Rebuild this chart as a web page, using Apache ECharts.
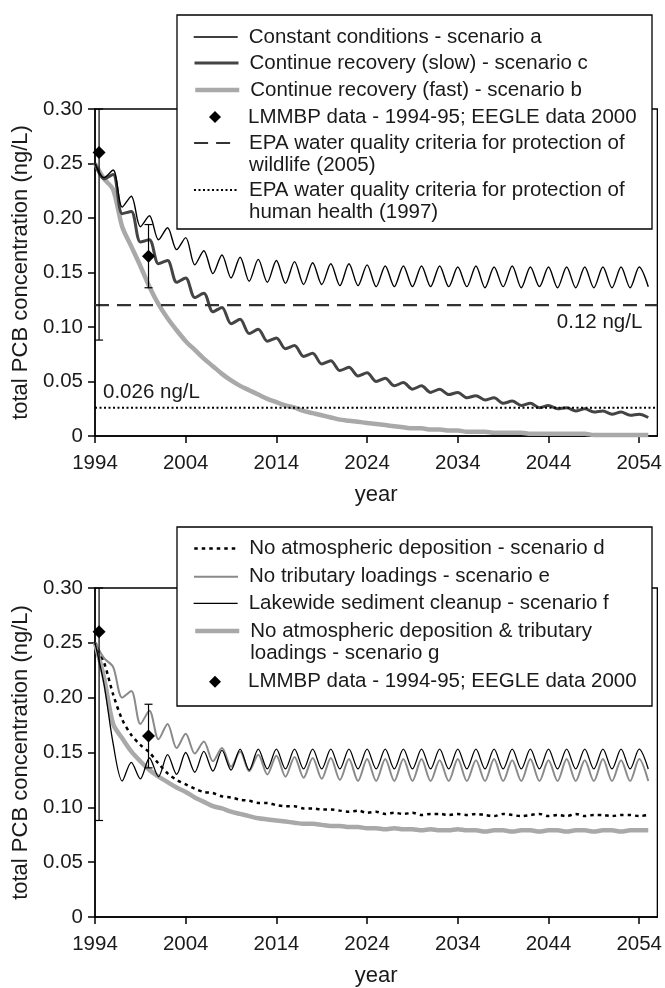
<!DOCTYPE html>
<html><head><meta charset="utf-8">
<script src="https://cdn.jsdelivr.net/npm/echarts@6/dist/echarts.min.js"></script>
<style>html,body{margin:0;padding:0;background:#fff}#c{width:665px;height:988px}</style>
</head><body><div id="c"></div><script>
// ---------- data ----------
const years = [1994,1995,1996,1997,1998,1999,2000,2001,2002,2003,2004,2005,2006,2007,2008,2009,2010,2011,2012,2013,2014,2015,2016,2017,2018,2019,2020,2021,2022,2023,2024,2025,2026,2027,2028,2029,2030,2031,2032,2033,2034,2035,2036,2037,2038,2039,2040,2041,2042,2043,2044,2045,2046,2047,2048,2049,2050,2051,2052,2053,2054,2055];
const yearTicks = [1994,2004,2014,2024,2034,2044,2054];
const xRange = [1994, 2056];
const yTicks = [0, 0.05, 0.10, 0.15, 0.20, 0.25, 0.30];

// top panel
const scenarioA = [0.250,0.237,0.244,0.210,0.220,0.192,0.202,0.180,0.191,0.171,0.182,0.157,0.170,0.149,0.166,0.145,0.164,0.142,0.162,0.141,0.161,0.140,0.160,0.139,0.159,0.139,0.158,0.138,0.158,0.138,0.157,0.137,0.156,0.137,0.156,0.137,0.156,0.137,0.156,0.137,0.155,0.137,0.156,0.136,0.155,0.137,0.156,0.136,0.155,0.137,0.155,0.136,0.155,0.136,0.155,0.136,0.155,0.136,0.155,0.136,0.155,0.137];
const scenarioC = [0.250,0.236,0.240,0.204,0.206,0.178,0.180,0.158,0.161,0.141,0.145,0.127,0.131,0.114,0.118,0.103,0.107,0.094,0.098,0.087,0.090,0.080,0.083,0.073,0.076,0.066,0.069,0.060,0.063,0.055,0.058,0.050,0.053,0.046,0.049,0.043,0.046,0.040,0.043,0.038,0.040,0.035,0.037,0.033,0.035,0.030,0.032,0.028,0.030,0.026,0.028,0.025,0.026,0.023,0.025,0.022,0.023,0.020,0.022,0.019,0.020,0.017];
const scenarioB = [0.250,0.236,0.226,0.192,0.174,0.156,0.137,0.121,0.108,0.097,0.087,0.079,0.071,0.064,0.057,0.051,0.046,0.042,0.038,0.034,0.031,0.028,0.026,0.023,0.021,0.019,0.017,0.015,0.014,0.013,0.012,0.011,0.010,0.009,0.008,0.007,0.007,0.006,0.006,0.005,0.005,0.004,0.004,0.004,0.003,0.003,0.003,0.003,0.002,0.002,0.002,0.002,0.002,0.002,0.002,0.001,0.001,0.001,0.001,0.001,0.001,0.001];
const wildlifeCriterion = 0.12;
const healthCriterion = 0.026;

// bottom panel
const scenarioD = [0.250,0.232,0.203,0.180,0.166,0.157,0.150,0.140,0.131,0.125,0.121,0.117,0.114,0.113,0.110,0.109,0.107,0.106,0.104,0.104,0.102,0.101,0.101,0.099,0.099,0.098,0.098,0.097,0.096,0.097,0.095,0.096,0.094,0.095,0.094,0.095,0.093,0.094,0.094,0.093,0.094,0.093,0.094,0.093,0.092,0.094,0.093,0.092,0.093,0.094,0.092,0.093,0.092,0.094,0.092,0.093,0.093,0.092,0.093,0.093,0.092,0.093];
const scenarioE = [0.250,0.236,0.228,0.200,0.206,0.176,0.188,0.162,0.176,0.154,0.167,0.149,0.160,0.142,0.154,0.137,0.151,0.133,0.148,0.130,0.147,0.128,0.146,0.127,0.145,0.126,0.145,0.125,0.144,0.124,0.144,0.124,0.144,0.124,0.144,0.124,0.144,0.124,0.143,0.124,0.144,0.124,0.143,0.124,0.144,0.124,0.143,0.124,0.144,0.124,0.143,0.124,0.144,0.124,0.143,0.124,0.144,0.124,0.143,0.124,0.144,0.124];
const scenarioF = [0.250,0.212,0.158,0.124,0.141,0.126,0.145,0.128,0.148,0.130,0.150,0.132,0.151,0.133,0.152,0.134,0.153,0.134,0.153,0.135,0.153,0.135,0.153,0.135,0.153,0.135,0.153,0.135,0.153,0.135,0.153,0.135,0.153,0.135,0.153,0.135,0.153,0.135,0.153,0.135,0.153,0.135,0.153,0.135,0.153,0.135,0.153,0.135,0.153,0.135,0.153,0.135,0.153,0.135,0.153,0.135,0.153,0.135,0.153,0.135,0.153,0.135];
const scenarioG = [0.250,0.218,0.176,0.163,0.151,0.142,0.134,0.128,0.123,0.118,0.114,0.109,0.105,0.101,0.099,0.096,0.094,0.092,0.090,0.089,0.088,0.087,0.086,0.085,0.085,0.084,0.083,0.083,0.082,0.082,0.081,0.081,0.080,0.081,0.080,0.080,0.079,0.080,0.079,0.079,0.080,0.079,0.079,0.078,0.079,0.079,0.078,0.079,0.079,0.078,0.079,0.079,0.078,0.079,0.079,0.078,0.079,0.079,0.078,0.079,0.079,0.079];

// observations with error bars
const obsYears = [1994.45, 1999.9];
const obsValues = [0.260, 0.165];
const errLow = [0.088, 0.136];
const errHigh = [0.300, 0.194];

// names
const N_A = 'Constant conditions - scenario a';
const N_C = 'Continue recovery (slow) - scenario c';
const N_B = 'Continue recovery (fast) - scenario b';
const N_OBS = 'LMMBP data - 1994-95; EEGLE data 2000';
const N_W = 'EPA water quality criteria for protection of\nwildlife (2005)';
const N_H = 'EPA water quality criteria for protection of\nhuman health (1997)';
const N_D = 'No atmospheric deposition - scenario d';
const N_E = 'No tributary loadings - scenario e';
const N_F = 'Lakewide sediment cleanup - scenario f';
const N_G = 'No atmospheric deposition & tributary\nloadings - scenario g';

// ---------- chart ----------
const FONT = 'Liberation Sans';
const TXT = '#1a1a1a';
const LEG_FS = 20.5;
const zip = (vals) => years.map((y, i) => [y, vals[i]]);
const obsData = obsYears.map((y, i) => [y, obsValues[i]]);
const errData = obsYears.map((y, i) => [y, errLow[i], errHigh[i]]);

function errRender(params, api) {
  const x = api.value(0);
  const pLo = api.coord([x, api.value(1)]);
  const pHi = api.coord([x, api.value(2)]);
  const hw = 4;
  const style = { stroke: '#000', lineWidth: 1.2, fill: null };
  return { type: 'group', children: [
    { type: 'line', shape: { x1: pLo[0], y1: pLo[1], x2: pHi[0], y2: pHi[1] }, style },
    { type: 'line', shape: { x1: pLo[0] - hw, y1: pLo[1], x2: pLo[0] + hw, y2: pLo[1] }, style },
    { type: 'line', shape: { x1: pHi[0] - hw, y1: pHi[1], x2: pHi[0] + hw, y2: pHi[1] }, style }
  ]};
}

function xAxis(gi) {
  return {
    type: 'value', gridIndex: gi, min: xRange[0], max: xRange[1],
    name: 'year', nameLocation: 'middle', nameGap: 48,
    nameTextStyle: { fontFamily: FONT, fontSize: 22, color: TXT },
    axisLine: { onZero: false, lineStyle: { color: '#000', width: 1.5 } },
    axisTick: { show: true, length: 7, lineStyle: { color: '#000', width: 1.5 }, customValues: yearTicks },
    axisLabel: { fontFamily: FONT, fontSize: 20.5, color: TXT, margin: 17, customValues: yearTicks,
      formatter: v => String(v) },
    splitLine: { show: false }
  };
}
function yAxis(gi) {
  return {
    type: 'value', gridIndex: gi, min: yTicks[0], max: yTicks[yTicks.length - 1], interval: 0.05,
    name: 'total PCB concentration (ng/L)', nameLocation: 'middle', nameGap: 57,
    nameTextStyle: { fontFamily: FONT, fontSize: 22, color: TXT },
    axisLine: { show: true, lineStyle: { color: '#000', width: 1.5 } },
    axisTick: { show: true, length: 7, lineStyle: { color: '#000', width: 1.5 } },
    axisLabel: { fontFamily: FONT, fontSize: 20.5, color: TXT, margin: 12,
      formatter: v => (v === 0 ? '0' : v.toFixed(2)) },
    splitLine: { show: false }
  };
}
const STY = {
  a: { color: '#000000', width: 1.4, type: 'solid' },
  c: { color: '#444444', width: 3, type: 'solid' },
  b: { color: '#a9a9a9', width: 4.5, type: 'solid' },
  w: { color: '#333333', width: 2.2, type: [14, 8] },
  h: { color: '#000000', width: 2, type: [2, 2.5] },
  d: { color: '#000000', width: 2.5, type: [3.5, 4] },
  e: { color: '#8a8a8a', width: 2, type: 'solid' },
  f: { color: '#000000', width: 1.3, type: 'solid' },
  g: { color: '#a9a9a9', width: 4.5, type: 'solid' }
};
function line(name, vals, gi, s, z) {
  return {
    type: 'line', name, data: zip(vals), xAxisIndex: gi, yAxisIndex: gi,
    symbol: 'none', smooth: 0.3, color: s.color, z,
    lineStyle: { color: s.color, width: s.width, type: s.type }
  };
}
const HIDE = 'rgba(0,0,0,0)';
function legendRow(name, top, s, opts) {
  opts = opts || {};
  const diamond = !s;
  const row = {
    left: diamond ? 209 : 193, top, orient: 'vertical', padding: 0, itemGap: 0, z: 200,
    itemWidth: diamond ? 12 : 44, itemHeight: diamond ? 12 : 14, selectedMode: false,
    data: [name],
    itemStyle: diamond ? { color: '#000', opacity: 1 } : { color: HIDE, borderColor: HIDE, borderWidth: 0 },
    formatter: opts.twoLine ? (n => ' \n' + n) : (n => n),
    textStyle: { fontFamily: FONT, fontSize: LEG_FS, color: TXT, lineHeight: 22,
      padding: [0, 0, 0, diamond ? 22 : 6] }
  };
  if (s) row.lineStyle = { color: s.color, width: s.width, type: s.type, opacity: 1 };
  return row;
}

const option = {
  animation: false,
  backgroundColor: '#fff',
  grid: [
    { left: 95, top: 109, width: 563, height: 327, show: true, borderColor: '#000', borderWidth: 1.3, containLabel: false },
    { left: 95, top: 588, width: 563, height: 329, show: true, borderColor: '#000', borderWidth: 1.3, containLabel: false }
  ],
  xAxis: [xAxis(0), xAxis(1)],
  yAxis: [yAxis(0), yAxis(1)],
  graphic: [
    { type: 'rect', z: 100, shape: { x: 177, y: 15, width: 475, height: 214 },
      style: { fill: '#fff', stroke: '#000', lineWidth: 1.3 } },
    { type: 'rect', z: 100, shape: { x: 177, y: 527, width: 475, height: 179 },
      style: { fill: '#fff', stroke: '#000', lineWidth: 1.3 } }
  ],
  legend: [
    legendRow(N_A, 26, STY.a),
    legendRow(N_C, 52, STY.c),
    legendRow(N_B, 79, STY.b),
    legendRow(N_OBS, 106, null),
    legendRow(N_W, 110, STY.w, { twoLine: true }),
    legendRow(N_H, 157, STY.h, { twoLine: true }),
    legendRow(N_D, 537.5, STY.d),
    legendRow(N_E, 565.7, STY.e),
    legendRow(N_F, 592.3, STY.f),
    legendRow(N_G, 598, STY.g, { twoLine: true }),
    legendRow(N_OBS, 670.7, null)
  ],
  series: [
    // top panel
    line(N_B, scenarioB, 0, STY.b, 2),
    line(N_C, scenarioC, 0, STY.c, 3),
    line(N_A, scenarioA, 0, STY.a, 4),
    {
      type: 'line', name: N_W, xAxisIndex: 0, yAxisIndex: 0, symbol: 'circle', symbolSize: 0,
      showSymbol: true, z: 5, color: STY.w.color,
      lineStyle: { color: STY.w.color, width: STY.w.width, type: STY.w.type },
      data: [
        [xRange[0], wildlifeCriterion],
        { value: [xRange[1], wildlifeCriterion],
          label: { show: true, formatter: '0.12 ng/L', position: 'bottom', align: 'right',
            offset: [-15, 2], fontFamily: FONT, fontSize: LEG_FS, color: TXT } }
      ]
    },
    {
      type: 'line', name: N_H, xAxisIndex: 0, yAxisIndex: 0, symbol: 'circle', symbolSize: 0,
      showSymbol: true, z: 5, color: STY.h.color,
      lineStyle: { color: STY.h.color, width: STY.h.width, type: STY.h.type },
      data: [
        { value: [xRange[0], healthCriterion],
          label: { show: true, formatter: '0.026 ng/L', position: 'top', align: 'left',
            offset: [8, 0], fontFamily: FONT, fontSize: LEG_FS, color: TXT } },
        [xRange[1], healthCriterion]
      ]
    },
    { type: 'custom', name: 'err-top', xAxisIndex: 0, yAxisIndex: 0, renderItem: errRender,
      data: errData, z: 6, encode: { x: 0, y: [1, 2] } },
    { type: 'scatter', name: N_OBS, xAxisIndex: 0, yAxisIndex: 0, symbol: 'diamond',
      symbolSize: 13, color: '#000', itemStyle: { color: '#000', opacity: 1 }, data: obsData, z: 7 },

    // bottom panel
    line(N_G, scenarioG, 1, STY.g, 2),
    line(N_D, scenarioD, 1, STY.d, 3),
    line(N_E, scenarioE, 1, STY.e, 4),
    line(N_F, scenarioF, 1, STY.f, 5),
    { type: 'custom', name: 'err-bottom', xAxisIndex: 1, yAxisIndex: 1, renderItem: errRender,
      data: errData, z: 6, encode: { x: 0, y: [1, 2] } },
    { type: 'scatter', name: N_OBS, xAxisIndex: 1, yAxisIndex: 1, symbol: 'diamond',
      symbolSize: 13, color: '#000', itemStyle: { color: '#000', opacity: 1 }, data: obsData, z: 7 }
  ]
};

const chart = echarts.init(document.getElementById('c'), null, { renderer: 'canvas' });
chart.setOption(option);
</script></body></html>
